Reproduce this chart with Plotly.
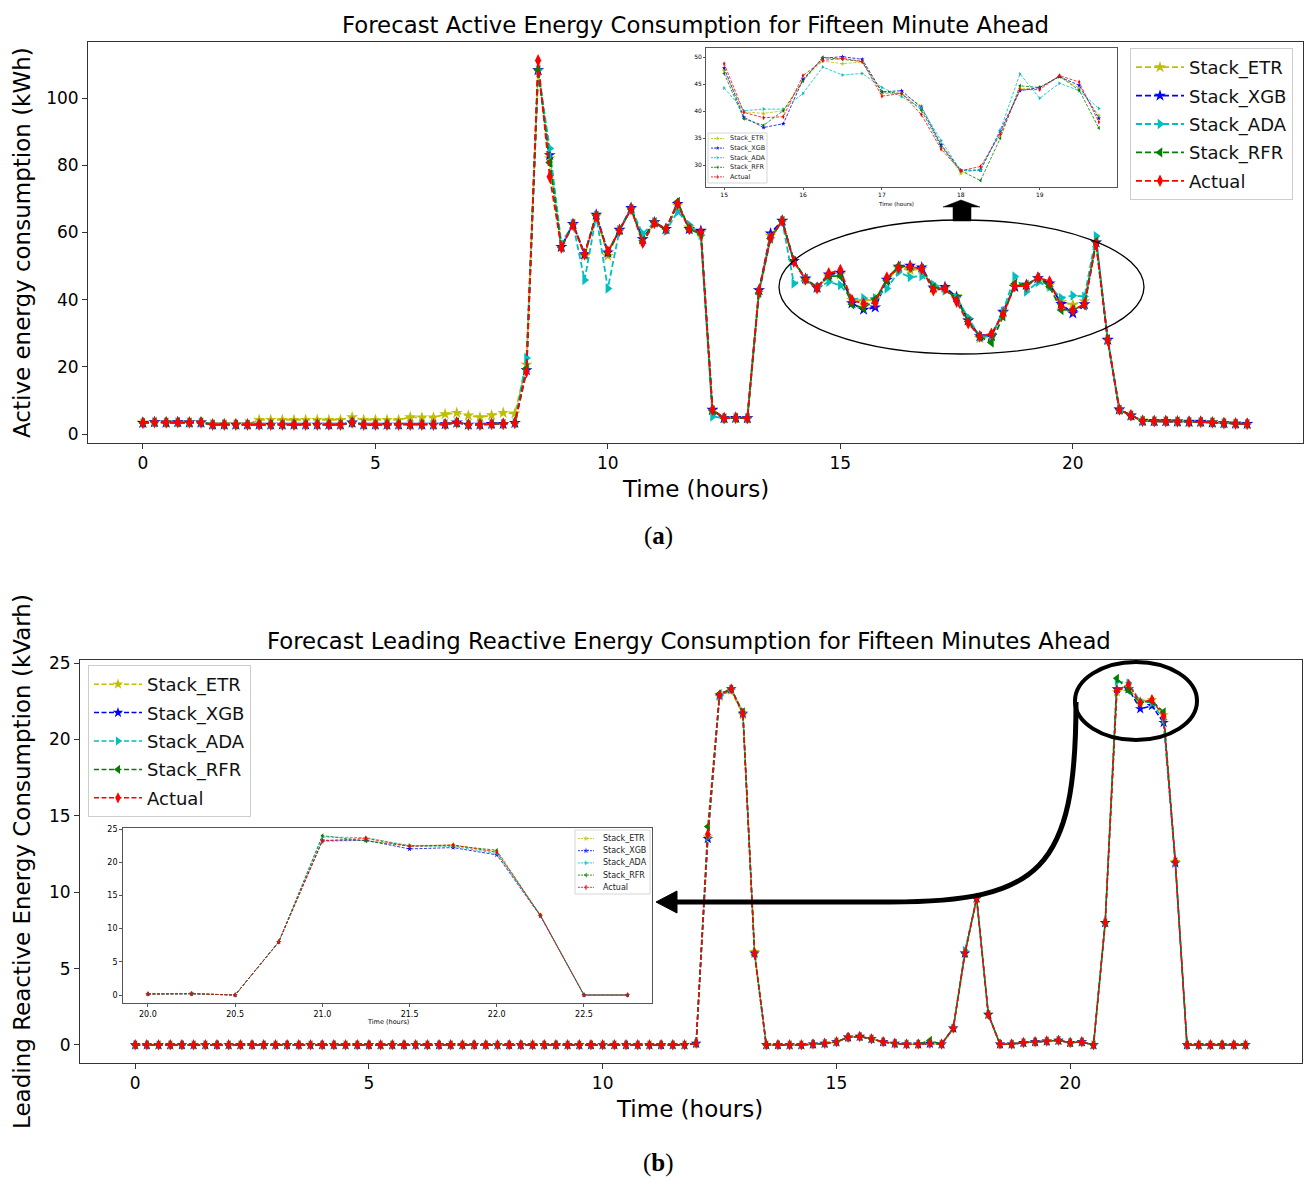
import plotly.graph_objects as go

W, H = 1306, 1178
FONT = "DejaVu Sans"

# 15-minute time steps over one day (hours)
TIME = [i * 15 / 60 for i in range(96)]

# ---------------- (a) Active energy consumption (kWh) ----------------
ETR_A = [3.4, 3.6, 3.5, 3.6, 3.5, 3.5, 2.9, 2.9,
         2.9, 2.9, 4.2, 4.2, 4.2, 4.2, 4.2, 4.2,
         4.2, 4.2, 5.0, 4.2, 4.2, 4.2, 4.2, 5.0,
         4.9, 4.9, 5.9, 6.3, 5.5, 5.0, 5.6, 6.3,
         6.1, 20.6, 108.3, 82.0, 55.7, 62.5, 53.0, 65.0,
         53.0, 60.7, 67.0, 58.0, 63.0, 61.0, 68.0, 61.5,
         60.0, 7.0, 4.7, 4.8, 4.7, 42.8, 59.0, 63.4,
         51.5, 46.0, 43.5, 47.0, 47.5, 39.9, 39.6, 40.1,
         45.8, 49.3, 48.8, 49.1, 43.3, 43.3, 41.0, 33.9,
         28.5, 29.3, 36.1, 44.1, 44.4, 46.4, 44.3, 39.2,
         38.5, 39.5, 57.0, 28.2, 7.3, 5.5, 4.0, 3.9,
         3.9, 3.8, 3.7, 3.7, 3.5, 3.3, 3.2, 3.1]
XGB_A = [3.3, 3.5, 3.4, 3.5, 3.4, 3.4, 2.8, 2.8,
         2.8, 2.8, 2.8, 2.8, 2.8, 2.8, 2.8, 2.8,
         2.8, 2.8, 3.4, 2.8, 2.8, 2.8, 2.8, 2.8,
         2.8, 2.8, 2.9, 3.4, 2.8, 2.8, 3.0, 3.0,
         3.3, 19.0, 108.3, 83.0, 55.7, 62.5, 53.5, 65.3,
         54.0, 60.8, 67.3, 58.0, 63.0, 61.0, 68.5, 61.0,
         60.5, 7.2, 4.7, 4.8, 4.7, 42.8, 59.7, 63.5,
         51.5, 46.3, 43.6, 47.5, 48.0, 38.9, 37.0, 37.7,
         45.9, 49.8, 50.1, 49.6, 43.6, 43.8, 40.7, 33.8,
         29.1, 29.1, 36.4, 43.8, 44.4, 46.4, 44.8, 38.7,
         35.9, 38.6, 57.0, 28.0, 7.3, 5.5, 3.9, 3.8,
         3.8, 3.7, 3.6, 3.6, 3.4, 3.2, 3.1, 3.0]
ADA_A = [3.3, 3.5, 3.4, 3.5, 3.4, 3.4, 2.9, 2.9,
         2.9, 2.9, 2.9, 2.9, 2.9, 2.9, 2.9, 2.9,
         2.9, 2.9, 3.4, 2.9, 2.9, 2.9, 2.9, 2.9,
         2.9, 2.9, 3.0, 3.4, 2.9, 2.9, 3.0, 3.0,
         3.3, 22.6, 108.3, 85.0, 56.7, 62.5, 45.8, 65.0,
         43.3, 60.7, 67.0, 59.6, 63.0, 60.5, 66.2, 62.2,
         59.2, 5.2, 4.7, 4.8, 4.7, 42.5, 58.5, 63.4,
         44.8, 46.0, 43.5, 45.3, 44.3, 40.1, 40.4, 40.4,
         43.3, 48.2, 46.7, 47.0, 44.4, 42.7, 40.6, 34.6,
         29.0, 29.1, 36.5, 46.9, 42.4, 45.2, 43.8, 40.5,
         41.2, 40.9, 58.9, 28.0, 7.3, 5.5, 3.9, 3.8,
         3.8, 3.7, 3.6, 3.6, 3.4, 3.2, 3.1, 3.0]
RFR_A = [3.3, 3.5, 3.4, 3.5, 3.4, 3.4, 2.8, 2.8,
         2.8, 2.8, 2.8, 2.8, 2.8, 2.8, 2.8, 2.8,
         2.8, 2.8, 3.4, 2.8, 2.8, 2.8, 2.8, 2.8,
         2.8, 2.8, 2.9, 3.4, 2.8, 2.8, 3.0, 3.0,
         3.3, 19.5, 108.3, 80.8, 55.5, 62.5, 53.6, 65.0,
         54.0, 60.7, 67.0, 57.5, 63.0, 61.0, 69.1, 61.0,
         59.5, 7.0, 4.7, 4.8, 4.7, 42.0, 58.2, 63.4,
         51.5, 46.2, 43.6, 47.0, 47.0, 38.6, 37.4, 40.1,
         45.6, 50.0, 49.6, 49.2, 43.6, 43.3, 40.2, 33.5,
         29.0, 27.2, 35.0, 44.7, 44.4, 46.5, 43.9, 36.9,
         37.0, 38.2, 57.2, 28.2, 7.2, 5.5, 3.9, 3.8,
         3.8, 3.7, 3.6, 3.6, 3.4, 3.2, 3.1, 3.0]
ACT_A = [3.3, 3.5, 3.4, 3.5, 3.4, 3.4, 2.8, 2.8,
         2.8, 2.8, 2.8, 2.8, 2.8, 2.8, 2.8, 2.8,
         2.8, 2.8, 3.4, 2.8, 2.8, 2.8, 2.8, 2.8,
         2.8, 2.8, 2.9, 3.4, 2.8, 2.8, 3.0, 3.0,
         3.3, 18.5, 111.2, 76.6, 55.5, 62.3, 53.5, 64.8,
         54.3, 60.6, 67.0, 56.9, 62.8, 61.0, 68.5, 61.0,
         60.0, 7.3, 4.7, 4.8, 4.7, 42.6, 58.5, 63.4,
         51.3, 46.0, 43.4, 47.8, 48.8, 39.8, 38.8, 39.0,
         46.6, 49.4, 49.8, 49.2, 42.8, 43.3, 39.4, 33.0,
         29.0, 29.8, 35.7, 44.0, 44.0, 46.6, 45.4, 38.0,
         36.8, 38.7, 56.7, 28.0, 7.3, 5.5, 3.9, 3.8,
         3.8, 3.7, 3.6, 3.6, 3.4, 3.2, 3.1, 3.0]

# ---------------- (b) Leading reactive energy consumption (kVarh) ----------------
ETR_B = [0.0, 0.0, 0.0, 0.0, 0.0, 0.0, 0.0, 0.0,
         0.0, 0.0, 0.0, 0.0, 0.0, 0.0, 0.0, 0.0,
         0.0, 0.0, 0.0, 0.0, 0.0, 0.0, 0.0, 0.0,
         0.0, 0.0, 0.0, 0.0, 0.0, 0.0, 0.0, 0.0,
         0.0, 0.0, 0.0, 0.0, 0.0, 0.0, 0.0, 0.0,
         0.0, 0.0, 0.0, 0.0, 0.0, 0.0, 0.0, 0.0,
         0.1, 13.6, 22.8, 23.2, 21.6, 6.1, 0.0, 0.0,
         0.0, 0.0, 0.05, 0.1, 0.2, 0.5, 0.55, 0.4,
         0.2, 0.1, 0.05, 0.05, 0.1, 0.05, 1.1, 6.0,
         9.6, 2.0, 0.05, 0.05, 0.15, 0.2, 0.25, 0.3,
         0.15, 0.2, 0.0, 8.0, 23.1, 23.3, 22.5, 22.6,
         21.6, 12.0, 0.0, 0.0, 0.0, 0.0, 0.0, 0.0]
XGB_B = [0.0, 0.0, 0.0, 0.0, 0.0, 0.0, 0.0, 0.0,
         0.0, 0.0, 0.0, 0.0, 0.0, 0.0, 0.0, 0.0,
         0.0, 0.0, 0.0, 0.0, 0.0, 0.0, 0.0, 0.0,
         0.0, 0.0, 0.0, 0.0, 0.0, 0.0, 0.0, 0.0,
         0.0, 0.0, 0.0, 0.0, 0.0, 0.0, 0.0, 0.0,
         0.0, 0.0, 0.0, 0.0, 0.0, 0.0, 0.0, 0.0,
         0.1, 13.5, 22.9, 23.3, 21.7, 6.0, 0.0, 0.0,
         0.0, 0.0, 0.05, 0.1, 0.2, 0.5, 0.55, 0.4,
         0.2, 0.1, 0.05, 0.05, 0.1, 0.05, 1.1, 6.0,
         9.6, 2.0, 0.05, 0.05, 0.15, 0.2, 0.25, 0.3,
         0.15, 0.2, 0.0, 8.0, 23.3, 23.3, 22.0, 22.2,
         21.1, 11.9, 0.0, 0.0, 0.0, 0.0, 0.0, 0.0]
ADA_B = [0.0, 0.0, 0.0, 0.0, 0.0, 0.0, 0.0, 0.0,
         0.0, 0.0, 0.0, 0.0, 0.0, 0.0, 0.0, 0.0,
         0.0, 0.0, 0.0, 0.0, 0.0, 0.0, 0.0, 0.0,
         0.0, 0.0, 0.0, 0.0, 0.0, 0.0, 0.0, 0.0,
         0.0, 0.0, 0.0, 0.0, 0.0, 0.0, 0.0, 0.0,
         0.0, 0.0, 0.0, 0.0, 0.0, 0.0, 0.0, 0.0,
         0.1, 13.6, 22.8, 23.3, 21.8, 6.0, 0.0, 0.0,
         0.0, 0.0, 0.05, 0.1, 0.2, 0.5, 0.55, 0.4,
         0.2, 0.1, 0.05, 0.05, 0.1, 0.05, 1.1, 6.2,
         9.6, 2.0, 0.05, 0.05, 0.15, 0.2, 0.25, 0.3,
         0.15, 0.2, 0.0, 8.0, 23.8, 23.7, 22.5, 22.4,
         21.3, 12.0, 0.0, 0.0, 0.0, 0.0, 0.0, 0.0]
RFR_B = [0.0, 0.0, 0.0, 0.0, 0.0, 0.0, 0.0, 0.0,
         0.0, 0.0, 0.0, 0.0, 0.0, 0.0, 0.0, 0.0,
         0.0, 0.0, 0.0, 0.0, 0.0, 0.0, 0.0, 0.0,
         0.0, 0.0, 0.0, 0.0, 0.0, 0.0, 0.0, 0.0,
         0.0, 0.0, 0.0, 0.0, 0.0, 0.0, 0.0, 0.0,
         0.0, 0.0, 0.0, 0.0, 0.0, 0.0, 0.0, 0.0,
         0.1, 14.3, 23.0, 23.3, 21.8, 5.9, 0.0, 0.0,
         0.0, 0.0, 0.05, 0.1, 0.2, 0.5, 0.55, 0.4,
         0.2, 0.1, 0.05, 0.05, 0.3, 0.05, 1.1, 6.0,
         9.6, 2.0, 0.05, 0.05, 0.15, 0.2, 0.25, 0.3,
         0.15, 0.2, 0.0, 8.0, 24.0, 23.2, 22.4, 22.5,
         21.8, 12.0, 0.0, 0.0, 0.0, 0.0, 0.0, 0.0]
ACT_B = [0.0, 0.0, 0.0, 0.0, 0.0, 0.0, 0.0, 0.0,
         0.0, 0.0, 0.0, 0.0, 0.0, 0.0, 0.0, 0.0,
         0.0, 0.0, 0.0, 0.0, 0.0, 0.0, 0.0, 0.0,
         0.0, 0.0, 0.0, 0.0, 0.0, 0.0, 0.0, 0.0,
         0.0, 0.0, 0.0, 0.0, 0.0, 0.0, 0.0, 0.0,
         0.0, 0.0, 0.0, 0.0, 0.0, 0.0, 0.0, 0.0,
         0.1, 13.8, 22.9, 23.3, 21.7, 6.0, 0.0, 0.0,
         0.0, 0.0, 0.05, 0.1, 0.2, 0.5, 0.55, 0.4,
         0.2, 0.1, 0.05, 0.05, 0.1, 0.05, 1.1, 6.0,
         9.6, 2.0, 0.05, 0.05, 0.15, 0.2, 0.25, 0.3,
         0.15, 0.2, 0.0, 8.0, 23.2, 23.6, 22.4, 22.6,
         21.5, 12.0, 0.0, 0.0, 0.0, 0.0, 0.0, 0.0]

SERIES = ["Stack_ETR", "Stack_XGB", "Stack_ADA", "Stack_RFR", "Actual"]
COLORS = ["#bfbf00", "#0000ff", "#00bfbf", "#008000", "#ff0000"]
SYMBOLS = ["star", "star", "triangle-right", "triangle-left", "diamond-tall"]
DATA_A = [ETR_A, XGB_A, ADA_A, RFR_A, ACT_A]
DATA_B = [ETR_B, XGB_B, ADA_B, RFR_B, ACT_B]

TITLE_A = "Forecast Active Energy Consumption for Fifteen Minute Ahead"
TITLE_B = "Forecast Leading Reactive Energy Consumption for Fifteen Minutes Ahead"
YLABEL_A = "Active energy consumption (kWh)"
YLABEL_B = "Leading Reactive Energy Consumption (kVarh)"
XLABEL = "Time (hours)"
INSET_A = (15.0, 19.75)
INSET_B = (20.0, 22.75)


def fx(p):
    return p / W


def fy(p):
    return 1 - p / H


fig = go.Figure()


def add_lines(xs, ys_list, xa, ya, lw, dash, msize, legend, showlegend, prefix):
    for name, ys, c, s in zip(SERIES, ys_list, COLORS, SYMBOLS):
        fig.add_trace(go.Scatter(
            x=xs, y=ys, xaxis=xa, yaxis=ya, mode="lines+markers", name=name,
            line=dict(color=c, width=lw, dash=dash),
            marker=dict(symbol=s, size=msize, color=c, line=dict(width=0)),
            legend=legend, showlegend=showlegend, legendgroup=prefix + name,
            hoverinfo="x+y+name"))


ia = [i for i, t in enumerate(TIME) if INSET_A[0] <= t <= INSET_A[1]]
ib = [i for i, t in enumerate(TIME) if INSET_B[0] <= t <= INSET_B[1]]

# main (a)
add_lines(TIME, DATA_A, "x", "y", 1.8, "6px,3px", 9, "legend", True, "a_")
# inset (a)
add_lines([TIME[i] for i in ia], [[d[i] for i in ia] for d in DATA_A],
          "x2", "y2", 0.8, "3px,1.5px", 3.5, "legend", False, "ai_")
# main (b)
add_lines(TIME, DATA_B, "x3", "y3", 1.5, "5px,2.5px", 8, "legend2", True, "b_")
# inset (b)
add_lines([TIME[i] for i in ib], [[d[i] for i in ib] for d in DATA_B],
          "x4", "y4", 0.8, "3px,1.5px", 4, "legend2", False, "bi_")

# ---- manual legends for the insets (pixel coordinates on overlay axes) ----
LEG_A = dict(box=(708, 767, 133, 183), y0=138.5, dy=9.6, l0=711, l1=724, tx=728, fs=6.5, ms=3.5)
LEG_B = dict(box=(575, 650, 830, 894), y0=838.5, dy=12.2, l0=578, l1=594, tx=601, fs=8, ms=4.5)

shapes = []
annotations = []
for L in (LEG_A, LEG_B):
    x0, x1, y0, y1 = L["box"]
    shapes.append(dict(type="rect", xref="x5", yref="y5", x0=x0, x1=x1, y0=y0, y1=y1,
                       fillcolor="white", line=dict(color="#cccccc", width=0.8), layer="below"))
for k, (name, c, s) in enumerate(zip(SERIES, COLORS, SYMBOLS)):
    xs, ys, sz = [], [], []
    for L in (LEG_A, LEG_B):
        yy = L["y0"] + k * L["dy"]
        xs += [L["l0"], (L["l0"] + L["l1"]) / 2, L["l1"], None]
        ys += [yy, yy, yy, None]
        sz += [0, L["ms"], 0, 0]
        annotations.append(dict(x=fx(L["tx"]), y=fy(yy), xref="paper", yref="paper",
                                text=name, showarrow=False, xanchor="left", yanchor="middle",
                                font=dict(family=FONT, size=L["fs"], color="#222")))
    fig.add_trace(go.Scatter(x=xs, y=ys, xaxis="x5", yaxis="y5", mode="lines+markers",
                             line=dict(color=c, width=0.8, dash="2px,1px"),
                             marker=dict(symbol=s, size=sz, color=c, line=dict(width=0)),
                             showlegend=False, hoverinfo="skip"))

# ---- annotation shapes: ellipses and arrows ----
shapes += [
    dict(type="circle", xref="x5", yref="y5", x0=779, x1=1144, y0=220, y1=354,
         line=dict(color="black", width=1.3)),
    dict(type="path", xref="x5", yref="y5",
         path="M 943 207 L 961 200 L 980 207 L 971 207 L 971 221 L 953 221 L 953 207 Z",
         fillcolor="black", line=dict(color="black", width=0.5)),
    dict(type="circle", xref="x5", yref="y5", x0=1075, x1=1197, y0=662, y1=740,
         line=dict(color="black", width=4)),
    dict(type="path", xref="x5", yref="y5",
         path="M 1076 702 C 1076 870 1040 902 890 902 L 672 902",
         line=dict(color="black", width=5)),
    dict(type="path", xref="x5", yref="y5",
         path="M 677 891 L 656 902 L 677 913 Z",
         fillcolor="black", line=dict(color="black", width=1)),
]

# ---- text annotations ----
def txt(x, y, s, size, angle=0, family=FONT):
    annotations.append(dict(x=fx(x), y=fy(y), xref="paper", yref="paper", text=s,
                            showarrow=False, textangle=angle, xanchor="center", yanchor="middle",
                            font=dict(family=family, size=size, color="black")))


txt(695, 25, TITLE_A, 22.8)
txt(695, 489, XLABEL, 23)
txt(22, 243, YLABEL_A, 23, -90)
txt(896, 204, XLABEL, 5.5)
txt(689, 641, TITLE_B, 22.8)
txt(689, 1109, XLABEL, 23)
txt(22, 862, YLABEL_B, 23, -90)
txt(388, 1022, XLABEL, 6.5)
txt(658, 536, "(<b>a</b>)", 25, family="Liberation Serif")
txt(658, 1163, "(<b>b</b>)", 25, family="Liberation Serif")


def axis(domain, rng, tickvals, fsize, anchor, ticklen=5, color="#333333", lw=1, fmt=None):
    d = dict(domain=domain, range=rng, tickvals=tickvals, anchor=anchor,
             showgrid=False, zeroline=False, showline=True, mirror=True,
             linecolor=color, linewidth=lw, ticks="outside", ticklen=ticklen,
             tickwidth=lw, tickcolor=color, automargin=False,
             tickfont=dict(family=FONT, size=fsize, color="black"))
    if fmt:
        d["tickformat"] = fmt
    return d


layout = dict(
    width=W, height=H, margin=dict(l=0, r=0, t=0, b=0, pad=0, autoexpand=False),
    paper_bgcolor="white", plot_bgcolor="rgba(0,0,0,0)",
    font=dict(family=FONT, color="black"),
    xaxis=axis([fx(88), fx(1303)], [-1.18, 24.95], [0, 5, 10, 15, 20], 17, "y"),
    yaxis=axis([fy(443), fy(42)], [-2.68, 116.67], [0, 20, 40, 60, 80, 100], 17, "x"),
    xaxis2=axis([fx(706), fx(1117)], [14.77, 19.98], [15, 16, 17, 18, 19], 6, "y2", ticklen=2, color="#555", lw=0.8),
    yaxis2=axis([fy(187), fy(48)], [26.0, 51.7], [30, 35, 40, 45, 50], 6, "x2", ticklen=2, color="#555", lw=0.8),
    xaxis3=axis([fx(80), fx(1302)], [-1.18, 24.96], [0, 5, 10, 15, 20], 17, "y3"),
    yaxis3=axis([fy(1063), fy(660)], [-1.18, 25.2], [0, 5, 10, 15, 20, 25], 17, "x3"),
    xaxis4=axis([fx(123), fx(652)], [19.857, 22.89], [20.0, 20.5, 21.0, 21.5, 22.0, 22.5], 8, "y4",
                ticklen=3, color="#555", lw=0.8, fmt=".1f"),
    yaxis4=axis([fy(1003), fy(828)], [-1.2, 25.15], [0, 5, 10, 15, 20, 25], 8, "x4",
                ticklen=3, color="#555", lw=0.8),
    xaxis5=dict(domain=[0, 1], range=[0, W], visible=False, anchor="y5", fixedrange=True, automargin=False),
    yaxis5=dict(domain=[0, 1], range=[H, 0], visible=False, anchor="x5", fixedrange=True, automargin=False),
    legend=dict(x=fx(1293), y=fy(48), xref="paper", yref="paper", xanchor="right", yanchor="top",
                bgcolor="white", bordercolor="#cccccc", borderwidth=1,
                font=dict(family=FONT, size=18, color="#111"), itemwidth=48, tracegroupgap=2),
    legend2=dict(x=fx(88), y=fy(665), xref="paper", yref="paper", xanchor="left", yanchor="top",
                 bgcolor="white", bordercolor="#cccccc", borderwidth=1,
                 font=dict(family=FONT, size=18, color="#111"), itemwidth=48, tracegroupgap=2),
    shapes=shapes,
    annotations=annotations,
    showlegend=True,
)
fig.update_layout(**layout)
fig.write_html("out.html")
